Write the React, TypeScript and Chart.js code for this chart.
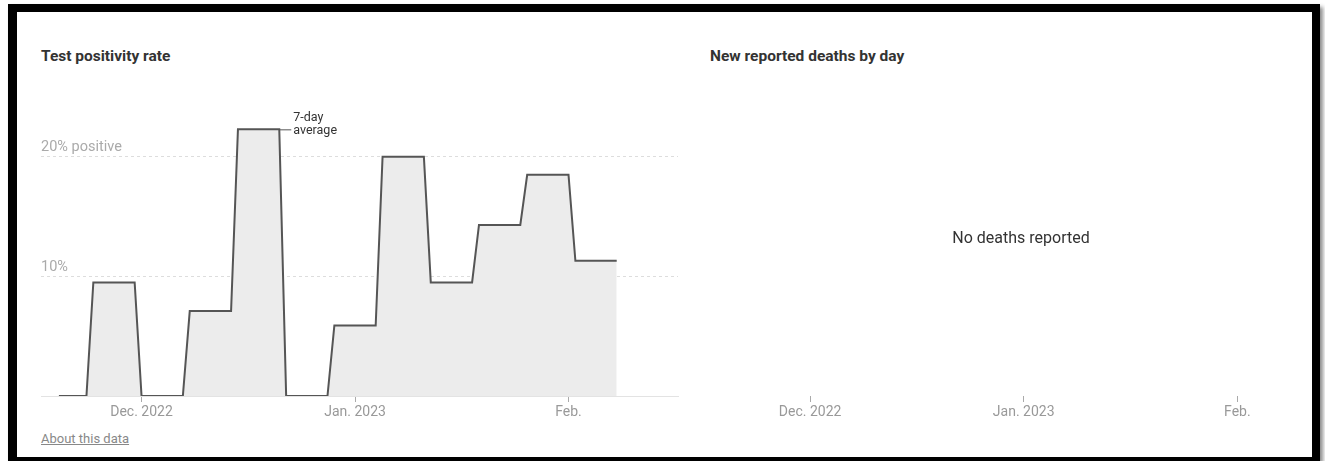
import React, { useEffect, useRef } from "react";
import { Chart, registerables } from "chart.js";

Chart.register(...registerables);

// ---------- data ----------
const dates: string[] = [
  "2022-11-19", "2022-11-20", "2022-11-21", "2022-11-22", "2022-11-23",
  "2022-11-24", "2022-11-25", "2022-11-26", "2022-11-27", "2022-11-28", "2022-11-29", "2022-11-30",
  "2022-12-01", "2022-12-02", "2022-12-03", "2022-12-04", "2022-12-05", "2022-12-06", "2022-12-07",
  "2022-12-08", "2022-12-09", "2022-12-10", "2022-12-11", "2022-12-12", "2022-12-13", "2022-12-14",
  "2022-12-15", "2022-12-16", "2022-12-17", "2022-12-18", "2022-12-19", "2022-12-20", "2022-12-21",
  "2022-12-22", "2022-12-23", "2022-12-24", "2022-12-25", "2022-12-26", "2022-12-27", "2022-12-28",
  "2022-12-29", "2022-12-30", "2022-12-31", "2023-01-01", "2023-01-02", "2023-01-03", "2023-01-04",
  "2023-01-05", "2023-01-06", "2023-01-07", "2023-01-08", "2023-01-09", "2023-01-10", "2023-01-11",
  "2023-01-12", "2023-01-13", "2023-01-14", "2023-01-15", "2023-01-16", "2023-01-17", "2023-01-18",
  "2023-01-19", "2023-01-20", "2023-01-21", "2023-01-22", "2023-01-23", "2023-01-24", "2023-01-25",
  "2023-01-26", "2023-01-27", "2023-01-28", "2023-01-29", "2023-01-30", "2023-01-31", "2023-02-01",
  "2023-02-02", "2023-02-03", "2023-02-04", "2023-02-05", "2023-02-06", "2023-02-07", "2023-02-08",
];

const positivity: number[] = [
  0, 0, 0, 0, 0,
  9.5, 9.5, 9.5, 9.5, 9.5, 9.5, 9.5,
  0, 0, 0, 0, 0, 0, 0,
  7.1, 7.1, 7.1, 7.1, 7.1, 7.1, 7.1,
  22.3, 22.3, 22.3, 22.3, 22.3, 22.3, 22.3,
  0, 0, 0, 0, 0, 0, 0,
  5.9, 5.9, 5.9, 5.9, 5.9, 5.9, 5.9,
  20.0, 20.0, 20.0, 20.0, 20.0, 20.0, 20.0,
  9.5, 9.5, 9.5, 9.5, 9.5, 9.5, 9.5,
  14.3, 14.3, 14.3, 14.3, 14.3, 14.3, 14.3,
  18.5, 18.5, 18.5, 18.5, 18.5, 18.5, 18.5,
  11.3, 11.3, 11.3, 11.3, 11.3, 11.3, 11.3,
];

const deathDates: string[] = [];
const deaths: number[] = [];

const xTickDates: string[] = ["2022-12-01", "2023-01-01", "2023-02-01"];
const xTickLabels: string[] = ["Dec. 2022", "Jan. 2023", "Feb."];

const yTickValues: number[] = [0, 10, 20];
const yTickLabels: string[] = ["", "10%", "20% positive"];

const annotationDate = "2022-12-21";
const annotationLines: string[] = ["7-day", "average"];

const AXIS_ORIGIN = "2022-12-01";
const dayOf = (d: string) => (Date.parse(d) - Date.parse(AXIS_ORIGIN)) / 86400000;

const FONT = "Roboto, 'Liberation Sans', sans-serif";

function makeXScale(min: number, max: number, showBorder: boolean) {
  return {
    type: "linear" as const,
    min,
    max,
    afterBuildTicks: (axis: any) => {
      axis.ticks = xTickDates.map((d) => ({ value: dayOf(d) }));
    },
    afterFit: (axis: any) => {
      axis.height = 34;
    },
    ticks: {
      autoSkip: false,
      maxRotation: 0,
      padding: 2,
      color: "#999",
      font: { family: FONT, size: 14 },
      callback: (v: any) => {
        const i = xTickDates.findIndex((d) => dayOf(d) === v);
        return i >= 0 ? xTickLabels[i] : "";
      },
    },
    grid: {
      display: true,
      drawOnChartArea: false,
      drawTicks: true,
      tickLength: 6,
      color: "#aaa",
    },
    border: { display: showBorder, color: "#e3e3e3", width: 1 },
  };
}

const annotationPlugin = {
  id: "sevenDayNote",
  afterDatasetsDraw(chart: any) {
    const xs = chart.scales.x;
    const ys = chart.scales.y;
    const idx = dates.indexOf(annotationDate);
    if (idx < 0) return;
    const px = xs.getPixelForValue(dayOf(annotationDate));
    const py = ys.getPixelForValue(positivity[idx]);
    const ctx = chart.ctx;
    ctx.save();
    ctx.strokeStyle = "#555";
    ctx.lineWidth = 1;
    ctx.beginPath();
    ctx.moveTo(px, py + 0.5);
    ctx.lineTo(px + 12, py + 0.5);
    ctx.stroke();
    ctx.fillStyle = "#333";
    ctx.font = `12.5px ${FONT}`;
    ctx.textAlign = "left";
    ctx.textBaseline = "middle";
    ctx.fillText(annotationLines[0], px + 14, py - 11);
    ctx.fillText(annotationLines[1], px + 14, py + 2);
    ctx.restore();
  },
};

function PositivityChart() {
  const ref = useRef<HTMLCanvasElement | null>(null);
  useEffect(() => {
    if (!ref.current) return;
    const chart = new Chart(ref.current, {
      type: "line",
      data: {
        datasets: [
          {
            data: dates.map((d, i) => ({ x: dayOf(d), y: positivity[i] })),
            borderColor: "#555",
            borderWidth: 2,
            backgroundColor: "#ececec",
            fill: "origin",
            pointRadius: 0,
            tension: 0,
          },
        ],
      },
      options: {
        animation: false,
        responsive: false,
        layout: { padding: { top: 9, right: 3, left: 0, bottom: 0 } },
        plugins: { legend: { display: false }, tooltip: { enabled: false } },
        scales: {
          x: makeXScale(-14.6, 77.9, true),
          y: {
            min: 0,
            max: 24,
            afterBuildTicks: (axis: any) => {
              axis.ticks = yTickValues.map((v) => ({ value: v }));
            },
            afterFit: (axis: any) => {
              axis.width = 0;
            },
            ticks: {
              mirror: true,
              padding: 0,
              labelOffset: -9,
              color: "#aaa",
              font: { family: FONT, size: 14.5 },
              callback: (v: any) => {
                const i = yTickValues.indexOf(v);
                return i >= 0 ? yTickLabels[i] : "";
              },
            },
            grid: {
              drawTicks: false,
              color: (c: any) => (c.tick && c.tick.value === 0 ? "rgba(0,0,0,0)" : "#ddd"),
            },
            border: { display: false, dash: [3, 3] },
          },
        },
      },
      plugins: [annotationPlugin],
    });
    return () => chart.destroy();
  }, []);
  return (
    <canvas
      ref={ref}
      width={640}
      height={330}
      style={{ position: "absolute", left: 41, top: 100, width: 640, height: 330 }}
    />
  );
}

function DeathsChart() {
  const ref = useRef<HTMLCanvasElement | null>(null);
  useEffect(() => {
    if (!ref.current) return;
    const chart = new Chart(ref.current, {
      type: "line",
      data: {
        datasets: [
          {
            data: deathDates.map((d, i) => ({ x: dayOf(d), y: deaths[i] })),
            borderColor: "#555",
            borderWidth: 2,
            pointRadius: 0,
          },
        ],
      },
      options: {
        animation: false,
        responsive: false,
        layout: { padding: { top: 9, right: 0, left: 0, bottom: 0 } },
        plugins: { legend: { display: false }, tooltip: { enabled: false } },
        scales: {
          x: makeXScale(-14.67, 72.4, false),
          y: { display: false, min: 0, max: 24 },
        },
      },
    });
    return () => chart.destroy();
  }, []);
  return (
    <canvas
      ref={ref}
      width={600}
      height={330}
      style={{ position: "absolute", left: 709, top: 100, width: 600, height: 330 }}
    />
  );
}

export default function App() {
  const titleStyle: React.CSSProperties = {
    position: "absolute",
    top: 47,
    fontFamily: FONT,
    fontWeight: 700,
    fontSize: 15.5,
    lineHeight: "18px",
    color: "#333",
    whiteSpace: "nowrap",
  };
  return (
    <div>
      <div
        style={{
          position: "absolute",
          left: 8,
          top: 4,
          width: 1312,
          height: 457,
          boxSizing: "border-box",
          borderStyle: "solid",
          borderColor: "#000",
          borderWidth: "8px 8px 4px 9px",
          background: "#fff",
          boxShadow: "3px 3px 4px rgba(0,0,0,0.45)",
        }}
      />
      <div style={{ ...titleStyle, left: 41 }}>Test positivity rate</div>
      <div style={{ ...titleStyle, left: 710 }}>New reported deaths by day</div>
      <PositivityChart />
      <DeathsChart />
      <div
        style={{
          position: "absolute",
          left: 1021,
          top: 228,
          transform: "translateX(-50%)",
          fontFamily: FONT,
          fontSize: 16,
          lineHeight: "19px",
          color: "#333",
          whiteSpace: "nowrap",
        }}
      >
        No deaths reported
      </div>
      <div
        style={{
          position: "absolute",
          left: 41,
          top: 431,
          fontFamily: FONT,
          fontSize: 13,
          lineHeight: "16px",
          color: "#888",
          textDecoration: "underline",
          whiteSpace: "nowrap",
        }}
      >
        About this data
      </div>
    </div>
  );
}
